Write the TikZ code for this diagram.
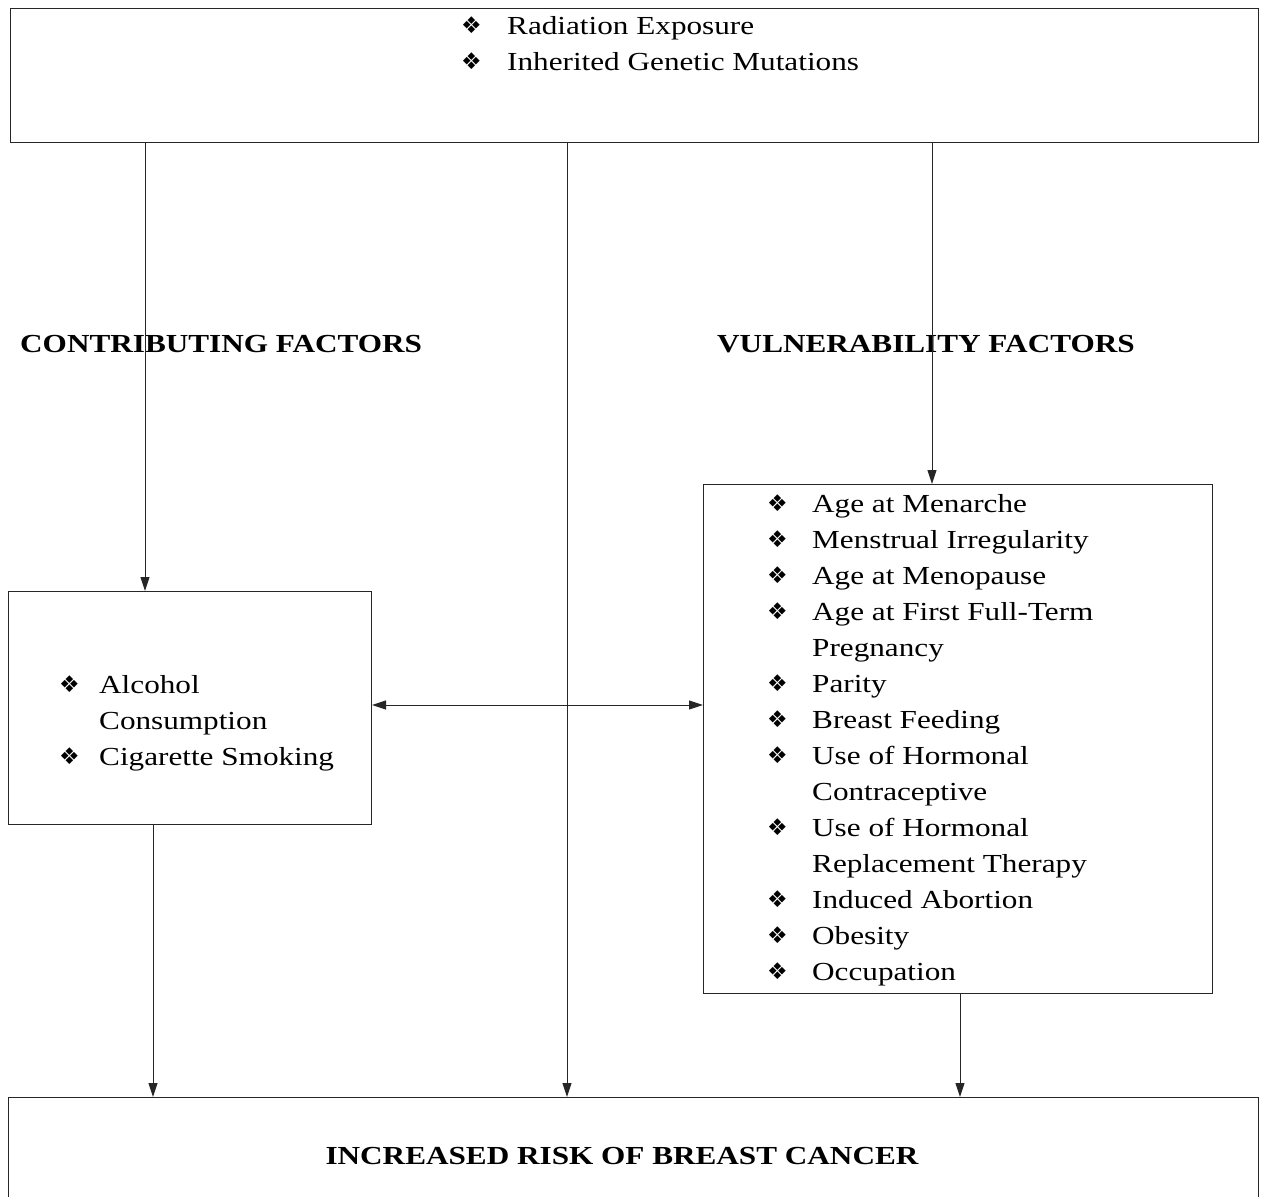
\documentclass[tikz,border=0pt]{standalone}
\usepackage{fontspec}
\setmainfont{Liberation Serif}[FakeStretch=1.2]
\newfontfamily\symfont{DejaVu Sans}
\usetikzlibrary{arrows.meta}
\newcommand{\bul}[1]{\makebox[#1][l]{\raisebox{1pt}{\symfont\fontsize{23}{23}\selectfont ❖}}}
\tikzset{
  box/.style={draw=black!85, line width=1.1pt, anchor=north west, inner sep=0pt},
  arr/.style={draw=black!85, line width=1pt, -{Triangle[length=14pt,width=9pt]}},
  darr/.style={draw=black!85, line width=1pt, {Triangle[length=14pt,width=9pt]}-{Triangle[length=14pt,width=9pt]}},
  txt/.style={inner sep=0pt, font=\fontsize{26}{36}\selectfont},
  head/.style={inner sep=0pt, font=\fontsize{26}{32}\selectfont\bfseries},
}
\begin{document}
\begin{tikzpicture}[x=1pt,y=-1pt]
\useasboundingbox (0,0) rectangle (1267,1197);
\clip (0,0) rectangle (1267,1197);
\fill[white] (0,0) rectangle (1267,1197);
% boxes
\node[box, minimum width=1248pt, minimum height=134pt] (top) at (10,8) {};
\node[box, minimum width=363pt, minimum height=233pt] (left) at (8,591) {};
\node[box, minimum width=509pt, minimum height=509pt] (right) at (703,484) {};
\node[box, minimum width=1250pt, minimum height=130pt] (bot) at (8,1097) {};
% top text
\node[txt, anchor=base west] (toptxt) at (461,34) {\begin{tabular}[t]{@{}l@{}l@{}}
\bul{46pt} & Radiation Exposure\\
\bul{46pt} & Inherited Genetic Mutations
\end{tabular}};
% headings
\node[head, anchor=base west] (contrib) at (20,352) {CONTRIBUTING FACTORS};
\node[head, anchor=base west] (vuln) at (717,352) {VULNERABILITY FACTORS};
% left list
\node[txt, anchor=base west] (lefttxt) at (59,693) {\begin{tabular}[t]{@{}l@{}l@{}}
\bul{40pt} & Alcohol\\
 & Consumption\\
\bul{40pt} & Cigarette Smoking
\end{tabular}};
% right list
\node[txt, anchor=base west] (righttxt) at (767,512) {\begin{tabular}[t]{@{}l@{}l@{}}
\bul{45pt} & Age at Menarche\\
\bul{45pt} & Menstrual Irregularity\\
\bul{45pt} & Age at Menopause\\
\bul{45pt} & Age at First Full-Term\\
 & Pregnancy\\
\bul{45pt} & Parity\\
\bul{45pt} & Breast Feeding\\
\bul{45pt} & Use of Hormonal\\
 & Contraceptive\\
\bul{45pt} & Use of Hormonal\\
 & Replacement Therapy\\
\bul{45pt} & Induced Abortion\\
\bul{45pt} & Obesity\\
\bul{45pt} & Occupation
\end{tabular}};
% bottom text
\node[head, anchor=base] (bottxt) at (622,1164) {INCREASED RISK OF BREAST CANCER};
% connectors
\draw[arr] (145,0 |- top.south) -- (145,0 |- left.north);
\draw[arr] (567,0 |- top.south) -- (567,0 |- bot.north);
\draw[arr] (932,0 |- top.south) -- (932,0 |- right.north);
\draw[darr] (left.east |- 0,705) -- (right.west |- 0,705);
\draw[arr] (153,0 |- left.south) -- (153,0 |- bot.north);
\draw[arr] (960,0 |- right.south) -- (960,0 |- bot.north);
\end{tikzpicture}
\end{document}
